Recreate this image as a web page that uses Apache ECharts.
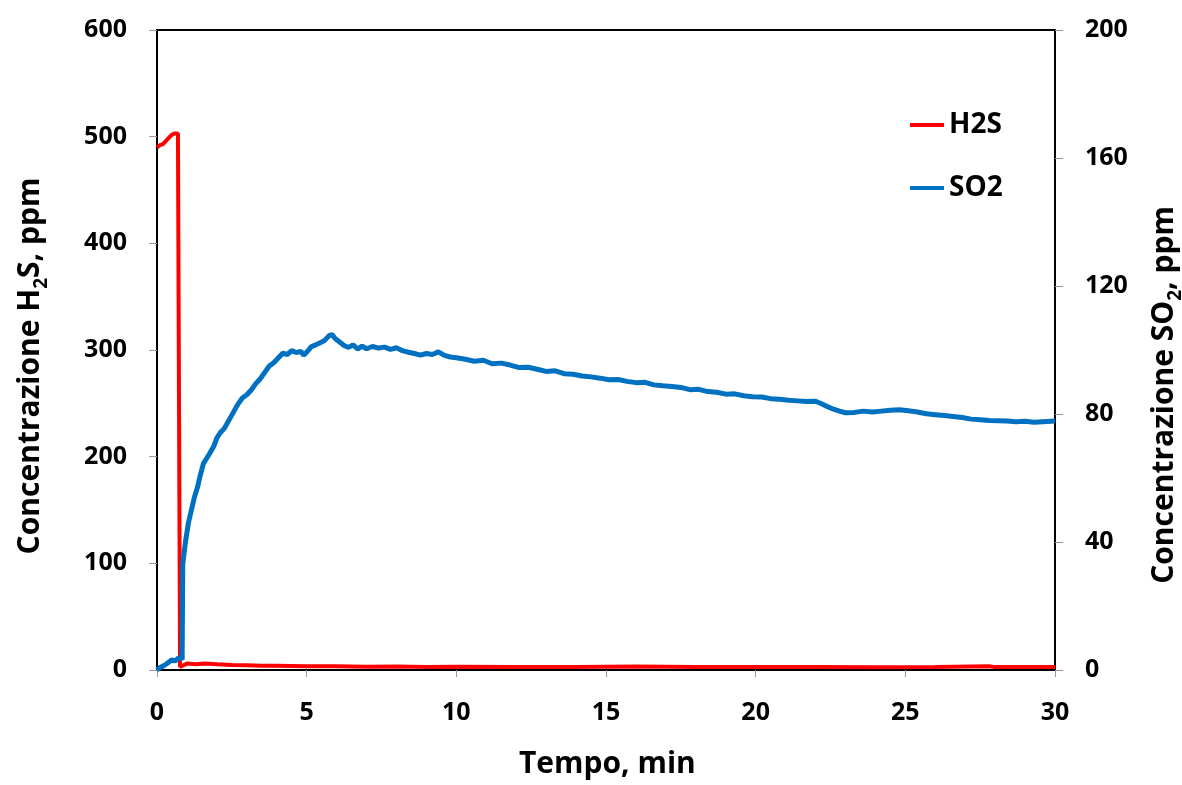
<!DOCTYPE html>
<html>
<head>
<meta charset="utf-8">
<script src="https://cdn.jsdelivr.net/npm/echarts@6/dist/echarts.min.js"></script>
<style>
html,body{margin:0;padding:0;background:#fff;}
#chart{width:1182px;height:785px;}
</style>
</head>
<body>
<div id="chart"></div>
<script>
// Time (min) and H2S concentration (ppm, left axis)
var h2sTime = [0, 0.1, 0.2, 0.3, 0.4, 0.5, 0.6, 0.7, 0.76, 0.77, 0.85, 1.0, 1.3, 1.6, 2.0, 2.5, 3.0, 3.5, 4.0, 5.0, 6.0, 7.0, 8.0, 9.0, 10.0, 12.0, 14.0, 16.0, 18.0, 20.0, 22.0, 24.0, 26.0, 27.8, 28.0, 30.0];
var h2sVals = [490, 492, 493, 496, 499, 502, 503, 503, 503, 3, 4, 6, 5.5, 6.2, 5.4, 4.8, 4.5, 4.1, 3.9, 3.5, 3.4, 3.1, 3.2, 2.9, 3.0, 2.8, 2.9, 3.2, 2.8, 2.7, 2.9, 2.6, 2.8, 3.6, 2.7, 2.8];

// Time (min) and SO2 concentration (ppm, right axis)
var so2Time = [0, 0.1, 0.2, 0.3, 0.4, 0.5, 0.6, 0.7, 0.8, 0.84, 0.86, 0.95, 1.05, 1.15, 1.25, 1.35, 1.45, 1.55, 1.65, 1.75, 1.9, 2.0, 2.1, 2.25, 2.4, 2.55, 2.7, 2.85, 3.0, 3.15, 3.3, 3.45, 3.6, 3.75, 3.9, 4.05, 4.2, 4.35, 4.5, 4.65, 4.8, 4.9, 5.0, 5.15, 5.3, 5.45, 5.6, 5.75, 5.85, 5.95, 6.1, 6.25, 6.4, 6.55, 6.7, 6.85, 7.0, 7.2, 7.4, 7.6, 7.8, 8.0, 8.2, 8.4, 8.6, 8.8, 9.0, 9.2, 9.4, 9.6, 9.8, 10.0, 10.3, 10.6, 10.9, 11.2, 11.5, 11.8, 12.1, 12.4, 12.7, 13.0, 13.3, 13.6, 13.9, 14.2, 14.5, 14.8, 15.1, 15.4, 15.7, 16.0, 16.3, 16.6, 16.9, 17.2, 17.5, 17.8, 18.1, 18.4, 18.7, 19.0, 19.3, 19.6, 19.9, 20.2, 20.5, 20.8, 21.1, 21.4, 21.7, 22.0, 22.2, 22.4, 22.6, 22.8, 23.0, 23.3, 23.6, 23.9, 24.2, 24.5, 24.8, 25.1, 25.4, 25.7, 26.0, 26.3, 26.6, 26.9, 27.2, 27.5, 27.8, 28.1, 28.4, 28.7, 29.0, 29.3, 29.6, 30.0];
var so2Vals = [0, 0.8, 1.2, 1.8, 2.5, 3.2, 2.8, 3.6, 3.9, 3.2, 33, 40, 46, 50, 54, 57, 61, 64.5, 66, 67.5, 70, 72.5, 74, 75.5, 78, 80.5, 83, 85, 86, 87.5, 89.5, 91, 93, 95, 96, 97.5, 99, 98.6, 99.8, 99.2, 99.6, 98.4, 99.3, 101, 101.6, 102.3, 103, 104.5, 104.8, 103.6, 102.5, 101.4, 100.8, 101.6, 100.3, 101.2, 100.4, 101.1, 100.6, 100.9, 100.2, 100.7, 99.8, 99.3, 98.9, 98.4, 98.9, 98.6, 99.4, 98.3, 97.8, 97.6, 97.1, 96.5, 96.8, 95.7, 95.9, 95.3, 94.5, 94.6, 94.0, 93.3, 93.5, 92.6, 92.4, 91.9, 91.6, 91.2, 90.7, 90.8, 90.2, 89.8, 89.9, 89.1, 88.8, 88.6, 88.3, 87.6, 87.7, 87.0, 86.8, 86.2, 86.3, 85.7, 85.4, 85.3, 84.8, 84.6, 84.3, 84.1, 83.9, 84.0, 83.2, 82.3, 81.5, 80.9, 80.4, 80.5, 80.9, 80.6, 80.9, 81.2, 81.3, 81.0, 80.6, 80.1, 79.8, 79.5, 79.2, 78.9, 78.4, 78.2, 78.0, 77.9, 77.8, 77.6, 77.7, 77.4, 77.6, 77.8];

var xTicks = [0, 5, 10, 15, 20, 25, 30];
var leftTicks = [0, 100, 200, 300, 400, 500, 600];
var rightTicks = [0, 40, 80, 120, 160, 200];

function pairs(t, v) { return t.map(function (x, i) { return [x, v[i]]; }); }

var FONT = '"Open Sans", "Liberation Sans", sans-serif';
var tickStyle = { color: '#000', fontFamily: FONT, fontWeight: 'bold', fontSize: 25 };
var titleRich = {
  a: { fill: '#000', fontFamily: FONT, fontWeight: 'bold', fontStyle: 'normal', fontSize: 30, lineHeight: 42 },
  s: { fill: '#000', fontFamily: FONT, fontWeight: 'bold', fontStyle: 'normal', fontSize: 19, lineHeight: 42, verticalAlign: 'bottom' }
};

var chart = echarts.init(document.getElementById('chart'), null, { renderer: 'canvas' });
chart.setOption({
  animation: false,
  backgroundColor: '#fff',
  grid: { left: 157, right: 127, top: 30, bottom: 115, show: true, borderColor: '#000', borderWidth: 2, backgroundColor: 'transparent' },
  legend: [
    { data: ['H2S'], left: 905, top: 106, icon: 'rect', itemWidth: 34, itemHeight: 4, itemGap: 6,
      textStyle: { color: '#000', fontFamily: FONT, fontWeight: 'bold', fontSize: 28 } },
    { data: ['SO2'], left: 905, top: 169, icon: 'rect', itemWidth: 34, itemHeight: 4, itemGap: 6,
      textStyle: { color: '#000', fontFamily: FONT, fontWeight: 'bold', fontSize: 28 } }
  ],
  xAxis: {
    type: 'value', min: xTicks[0], max: xTicks[xTicks.length - 1], interval: 5,
    axisLine: { show: true, onZero: false, lineStyle: { color: '#000', width: 2 } },
    axisTick: { show: true, inside: false, length: 7, lineStyle: { color: '#999', width: 1 } },
    axisLabel: Object.assign({ margin: 30 }, tickStyle),
    splitLine: { show: false }
  },
  yAxis: [
    { type: 'value', position: 'left', min: leftTicks[0], max: leftTicks[leftTicks.length - 1], interval: 100,
      axisLine: { show: true, onZero: false, lineStyle: { color: '#000', width: 2 } },
      axisTick: { show: true, inside: false, length: 8, lineStyle: { color: '#999', width: 1 } },
      axisLabel: Object.assign({ margin: 30 }, tickStyle),
      splitLine: { show: false } },
    { type: 'value', position: 'right', min: rightTicks[0], max: rightTicks[rightTicks.length - 1], interval: 40,
      axisLine: { show: true, onZero: false, lineStyle: { color: '#000', width: 2 } },
      axisTick: { show: true, inside: false, length: 8, lineStyle: { color: '#999', width: 1 } },
      axisLabel: Object.assign({ margin: 30 }, tickStyle),
      splitLine: { show: false } }
  ],
  graphic: [
    { type: 'text', left: 519, top: 749, style: { text: 'Tempo, min', fill: '#000', font: 'bold 30px ' + FONT } },
    { type: 'text', x: 30, y: 366, rotation: Math.PI / 2,
      style: { text: '{a|Concentrazione H}{s|2}{a|S, ppm}', align: 'center', verticalAlign: 'middle', rich: titleRich } },
    { type: 'text', x: 1164, y: 395, rotation: Math.PI / 2,
      style: { text: '{a|Concentrazione SO}{s|2}{a|, ppm}', align: 'center', verticalAlign: 'middle', rich: titleRich } }
  ],
  series: [
    { name: 'H2S', type: 'line', yAxisIndex: 0, data: pairs(h2sTime, h2sVals), showSymbol: false, symbol: 'none',
      itemStyle: { color: '#ff0000' }, lineStyle: { color: '#ff0000', width: 4 } },
    { name: 'SO2', type: 'line', yAxisIndex: 1, data: pairs(so2Time, so2Vals), showSymbol: false, symbol: 'none',
      itemStyle: { color: '#0070c0' }, lineStyle: { color: '#0070c0', width: 5 } }
  ]
});
</script>
</body>
</html>
